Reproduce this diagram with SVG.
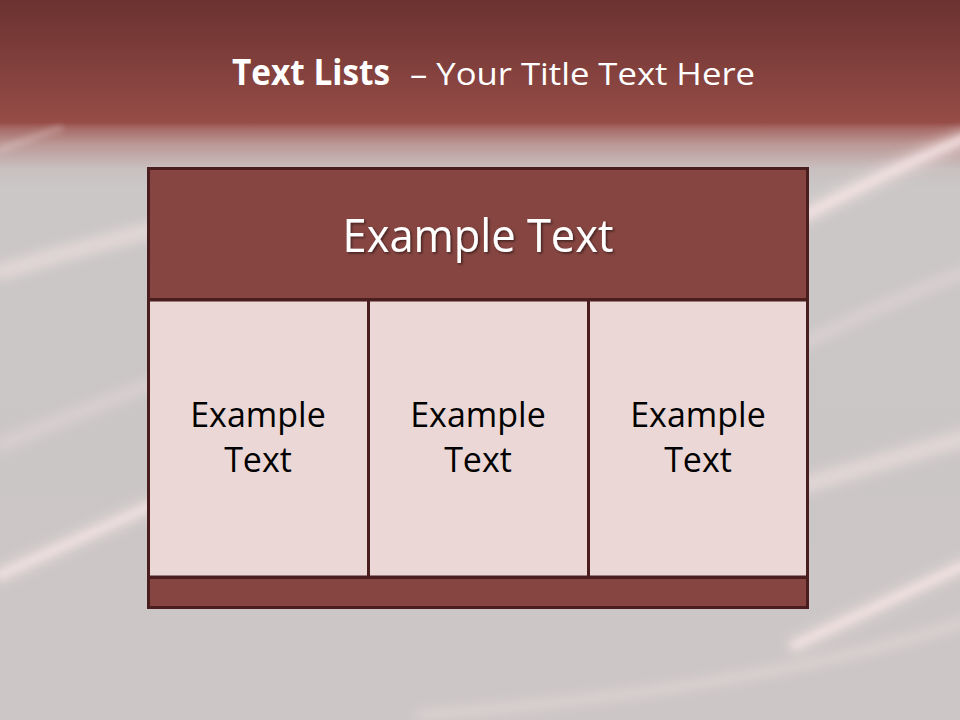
<svg xmlns="http://www.w3.org/2000/svg" width="960" height="720" viewBox="0 0 960 720">
<defs>
<linearGradient id="bg" x1="0" y1="0" x2="0" y2="720" gradientUnits="userSpaceOnUse">
<stop offset="0" stop-color="#6a3230"/>
<stop offset="0.17" stop-color="#964c47"/>
<stop offset="0.178" stop-color="#a66a66"/>
<stop offset="0.2" stop-color="#bb9895"/>
<stop offset="0.235" stop-color="#c9c0c0"/>
<stop offset="0.26" stop-color="#cbc7c7"/>
<stop offset="1" stop-color="#ccc6c6"/>
</linearGradient>
<filter id="blur" x="-10%" y="-80%" width="120%" height="260%"><feGaussianBlur stdDeviation="3"/></filter>
<filter id="blur2" x="-10%" y="-80%" width="120%" height="260%"><feGaussianBlur stdDeviation="6"/></filter>
<filter id="shadow" x="-5%" y="-20%" width="110%" height="140%"><feDropShadow dx="1.5" dy="1.5" stdDeviation="1" flood-color="#000" flood-opacity="0.5"/></filter>
</defs>
<style>
.streak{fill:none;stroke:#f6e4e4;stroke-linecap:round}
.box{stroke:#4a1e1e;stroke-width:3}
.dark{fill:#864541}
.light{fill:#ebd8d6}
.cell{font-family:"Open Sans","DejaVu Sans",sans-serif;font-size:34px;fill:#000;text-anchor:middle}
.ttl{font-family:"Open Sans","DejaVu Sans",sans-serif;fill:#fff}
</style>
<rect x="0" y="0" width="960" height="720" fill="url(#bg)"/>
<g id="streaks">
<path class="streak" d="M0 150 Q30 138 60 128" stroke-width="6" opacity="0.3" filter="url(#blur)"/>
<path class="streak" d="M0 272 Q80 248 160 228" stroke-width="16" opacity="0.55" filter="url(#blur2)"/>
<path class="streak" d="M0 445 Q80 412 160 380" stroke-width="10" opacity="0.4" filter="url(#blur2)"/>
<path class="streak" d="M0 575 Q80 538 160 502" stroke-width="16" opacity="0.55" filter="url(#blur2)"/>
<path class="streak" d="M0 575 Q80 538 160 502" stroke-width="6" opacity="0.7" filter="url(#blur)"/>
<path class="streak" d="M800 218 Q880 175 965 138" stroke-width="18" opacity="0.55" filter="url(#blur2)"/>
<path class="streak" d="M800 218 Q880 175 965 138" stroke-width="7" opacity="0.75" filter="url(#blur)"/>
<path class="streak" d="M800 345 Q880 305 965 272" stroke-width="10" opacity="0.4" filter="url(#blur2)"/>
<path class="streak" d="M805 485 Q880 462 965 438" stroke-width="16" opacity="0.55" filter="url(#blur2)"/>
<path class="streak" d="M795 645 Q880 605 965 565" stroke-width="16" opacity="0.55" filter="url(#blur2)"/>
<path class="streak" d="M795 645 Q880 605 965 565" stroke-width="6" opacity="0.75" filter="url(#blur)"/>
<path class="streak" d="M420 715 Q760 690 965 622" stroke-width="10" opacity="0.4" filter="url(#blur2)"/>
</g>
<g id="title">
<text class="ttl" x="232" y="85" font-size="35" font-weight="bold" textLength="158" lengthAdjust="spacingAndGlyphs">Text Lists</text>
<text class="ttl" x="410" y="85" font-size="31" textLength="345" lengthAdjust="spacingAndGlyphs">– Your Title Text Here</text>
</g>
<g id="header">
<rect class="box dark" x="148.5" y="168.5" width="659" height="131"/>
<text x="478" y="252" font-family="'Open Sans','DejaVu Sans',sans-serif" font-size="45" fill="#fff" text-anchor="middle" textLength="271" lengthAdjust="spacingAndGlyphs" filter="url(#shadow)">Example Text</text>
</g>
<g id="cell1">
<rect class="box light" x="148.5" y="300" width="220" height="277"/>
<text class="cell" x="258" y="427">Example</text>
<text class="cell" x="258" y="472">Text</text>
</g>
<g id="cell2">
<rect class="box light" x="368.5" y="300" width="220" height="277"/>
<text class="cell" x="478" y="427">Example</text>
<text class="cell" x="478" y="472">Text</text>
</g>
<g id="cell3">
<rect class="box light" x="588.5" y="300" width="219" height="277"/>
<text class="cell" x="698" y="427">Example</text>
<text class="cell" x="698" y="472">Text</text>
</g>
<g id="footer">
<rect class="box dark" x="148.5" y="577.5" width="659" height="30"/>
</g>
<g id="connectors"/>
</svg>
